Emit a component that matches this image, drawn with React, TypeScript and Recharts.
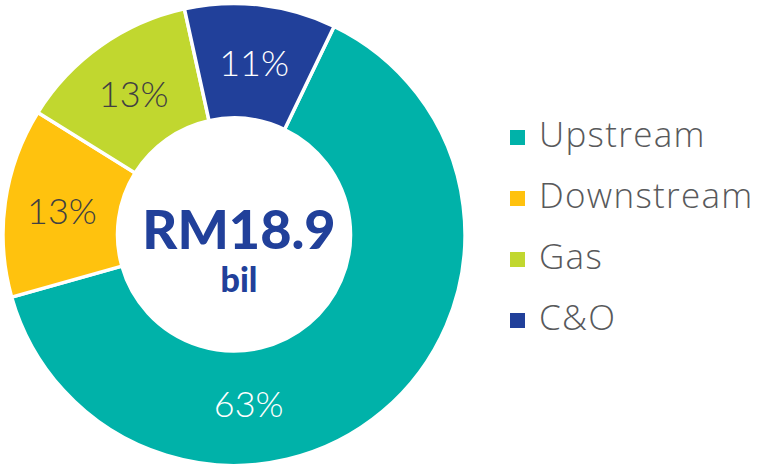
import React from 'react';
import { PieChart, Pie, Cell, Legend } from 'recharts';

const categories = ['Upstream', 'Downstream', 'Gas', 'C&O'];
const values = [12.0, 2.5, 2.4, 2.0]; // RM bil
const percentLabels = ['63%', '13%', '13%', '11%'];
const colors = ['#00B2A9', '#FFC20E', '#C1D72F', '#21409A'];
const labelColors = ['#FFFFFF', '#414042', '#414042', '#FFFFFF'];
const totalLabel = 'RM18.9';
const unitLabel = 'bil';

const data = categories.map((name, i) => ({ name, value: values[i], pct: percentLabels[i] }));

const CX = 234;
const CY = 234.5;
const RAD = Math.PI / 180;

const renderSliceLabel = (props: any) => {
  const { cx, cy, midAngle, innerRadius, outerRadius, index } = props;
  const shift = index === 0 ? -35 : 0;
  const rShift = index === 0 ? -5 : 0;
  const r = (innerRadius + outerRadius) / 2 + rShift;
  const a = (midAngle + shift) * RAD;
  const x = cx + r * Math.cos(-a);
  const y = cy + r * Math.sin(-a);
  return (
    <text
      x={x}
      y={y}
      fill={labelColors[index]}
      textAnchor="middle"
      dominantBaseline="central"
      style={{ fontFamily: 'Lato', fontWeight: 300, fontSize: 36 }}
    >
      {data[index].pct}
    </text>
  );
};

const renderLegend = () => {
  return (
    <div>
      {categories.map((name, i) => (
        <div key={name} style={{ display: 'flex', alignItems: 'center', height: 61 }}>
          <span style={{ display: 'inline-block', width: 15, height: 15, background: colors[i], marginRight: 14, flex: 'none' }} />
          <span
            style={{
              fontFamily: 'Open Sans',
              fontWeight: 300,
              fontSize: 35,
              lineHeight: '35px',
              color: '#58595B',
              position: 'relative',
              top: -4,
              letterSpacing: 1.3,
              whiteSpace: 'nowrap',
            }}
          >
            {name}
          </span>
        </div>
      ))}
    </div>
  );
};

export default function App() {
  return (
    <div style={{ position: 'absolute', left: 0, top: 0, width: 759, height: 465, background: '#fff' }}>
      <PieChart width={759} height={465} margin={{ top: 0, right: 0, bottom: 0, left: 0 }}>
        <Pie
          data={data}
          dataKey="value"
          nameKey="name"
          cx={CX}
          cy={CY}
          innerRadius={116.5}
          outerRadius={231}
          startAngle={64.3}
          endAngle={-295.7}
          stroke="#FFFFFF"
          strokeWidth={3.5}
          label={renderSliceLabel}
          labelLine={false}
          isAnimationActive={false}
        >
          {data.map((d, i) => (
            <Cell key={d.name} fill={colors[i]} />
          ))}
        </Pie>
        <text
          x={CX + 5}
          y={CY + 14.5}
          textAnchor="middle"
          fill="#21409A"
          style={{ fontFamily: 'Lato', fontWeight: 900, fontSize: 54 }}
        >
          {totalLabel}
        </text>
        <text
          x={CX + 5}
          y={CY + 57.5}
          textAnchor="middle"
          fill="#21409A"
          style={{ fontFamily: 'Lato', fontWeight: 900, fontSize: 34 }}
        >
          {unitLabel}
        </text>
        <Legend
          layout="vertical"
          verticalAlign="top"
          align="right"
          content={renderLegend}
          wrapperStyle={{ position: 'absolute', left: 510, top: 107, width: 249 }}
        />
      </PieChart>
    </div>
  );
}
